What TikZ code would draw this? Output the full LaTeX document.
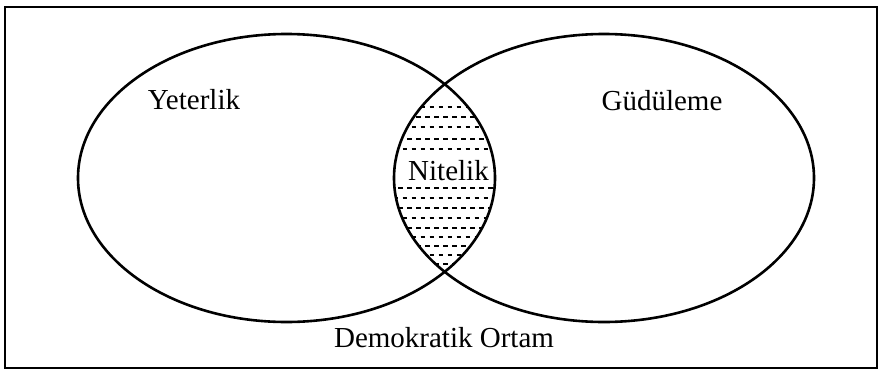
\documentclass[tikz,border=0pt]{standalone}
\usepackage{fontspec}
\setmainfont{Liberation Serif}
\usetikzlibrary{shapes.geometric}
\begin{document}
\begin{tikzpicture}[x=1pt,y=-1pt,
  ell/.style={line width=2.6pt},
  lbl/.style={font=\fontsize{29}{32}\selectfont, inner sep=0pt, anchor=base},
  dots/.style={line width=2.7pt, dash pattern=on 4.5pt off 4.5pt}]
\useasboundingbox (0,0) rectangle (881,370);
\node[draw, line width=1.8pt, minimum width=872pt, minimum height=361pt, inner sep=0pt] (frame) at (441,187.5) {};
% shading of the lens
\begin{scope}
  \clip (286.5,178) ellipse [x radius=208.5pt, y radius=144pt];
  \clip (604,178) ellipse [x radius=210pt, y radius=144pt];
  \foreach \yy [count=\r] in {107,117,127,139,149,188,198,208,218,228,237,246,255,264} {
    \pgfmathsetmacro{\ph}{mod(\r,2)*4.5}
    \draw[dots, dash phase=\ph pt] (380,\yy) -- (520,\yy);
  }
\end{scope}
\node[ell, draw, ellipse, minimum width=417pt, minimum height=288pt, inner sep=0pt] (L) at (286.5,178) {};
\node[ell, draw, ellipse, minimum width=420pt, minimum height=288pt, inner sep=0pt] (R) at (604,178) {};
\node[lbl] (nit) at (448.5,180) {Nitelik};
\node[lbl] (yet) at (194,109) {Yeterlik};
\node[lbl] (gud) at (662,110) {Güdüleme};
\node[lbl] (dem) at (444,347) {Demokratik Ortam};
\end{tikzpicture}
\end{document}
